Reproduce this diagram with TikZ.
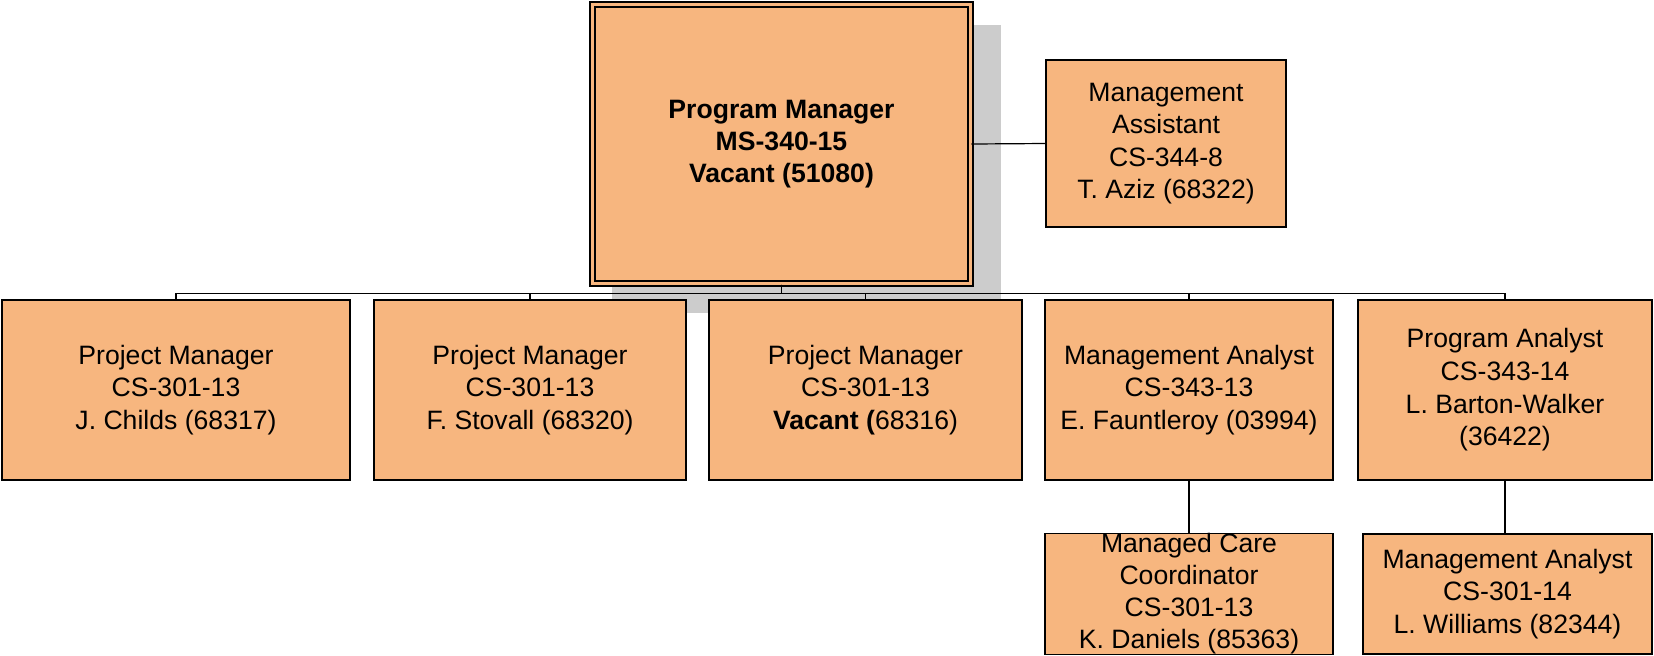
\documentclass[tikz,border=0pt]{standalone}
\usepackage{fontspec}
\setmainfont{Liberation Sans}
\usetikzlibrary{shadows}
\definecolor{boxfill}{RGB}{247,182,127}
\definecolor{shadowgray}{RGB}{204,204,204}
\tikzstyle{post} = [draw=black, line width=0.85pt, fill=boxfill, align=center, inner sep=2pt, font=\fontsize{13.3}{16.3}\selectfont]
\tikzstyle{chief} = [post, double=boxfill, double distance=1.6pt, line width=0.9pt, font=\bfseries\fontsize{13.3}{16.1}\selectfont,
  drop shadow={shadow xshift=12.25pt, shadow yshift=-12pt, shadow scale=1.03, fill=shadowgray, opacity=1}]
\tikzstyle{conn} = [line width=0.6pt]

\begin{document}
\begin{tikzpicture}[x=0.5pt, y=-0.5pt]
  \useasboundingbox (0,0) rectangle (1654,655);
  % top of the chart
  \node[chief, minimum width=189pt, minimum height=139.6pt] (pgm) at (781.5,144)
    {Program Manager\\MS-340-15\\Vacant (51080)};
  \node[post, minimum width=120pt, minimum height=83.5pt] (asst) at (1166,143.5)
    {Management\\Assistant\\CS-344-8\\T. Aziz (68322)};
  % second row
  \node[post, minimum width=174pt, minimum height=90pt] (pm1) at (176,390)
    {Project Manager\\CS-301-13\\J. Childs (68317)};
  \node[post, minimum width=156pt, minimum height=90pt] (pm2) at (530,390)
    {Project Manager\\CS-301-13\\F. Stovall (68320)};
  \node[post, minimum width=156.5pt, minimum height=90pt] (pm3) at (865.5,390)
    {Project Manager\\CS-301-13\\\textbf{Vacant (}68316)};
  \node[post, minimum width=144pt, minimum height=90pt] (mgta) at (1189,390)
    {Management Analyst\\CS-343-13\\E. Fauntleroy (03994)};
  \node[post, minimum width=147pt, minimum height=90pt] (pgma) at (1505,390)
    {Program Analyst\\CS-343-14\\L. Barton-Walker\\(36422)};
  % third row
  \node[post, minimum width=144pt, minimum height=60pt, inner sep=0pt,
    font=\fontsize{13.3}{16}\selectfont] (mcc) at (1189,594)
    {Managed Care\\Coordinator\\CS-301-13\\K. Daniels (85363)};
  \node[post, minimum width=144.5pt, minimum height=60pt] (mgtb) at (1507.5,594)
    {Management Analyst\\CS-301-14\\L. Williams (82344)};
  % connectors
  \draw[conn] (pgm.east) -- (asst.west);
  \foreach \c in {pm1,pm2,pm3,mgta,pgma}
    \draw[conn] (pgm.south) -- ++(0,9) -| (\c.north);
  \draw[conn] (mgta.south) -- (mcc.north);
  \draw[conn] (pgma.south) -- (pgma.south |- mgtb.north);
\end{tikzpicture}
\end{document}
